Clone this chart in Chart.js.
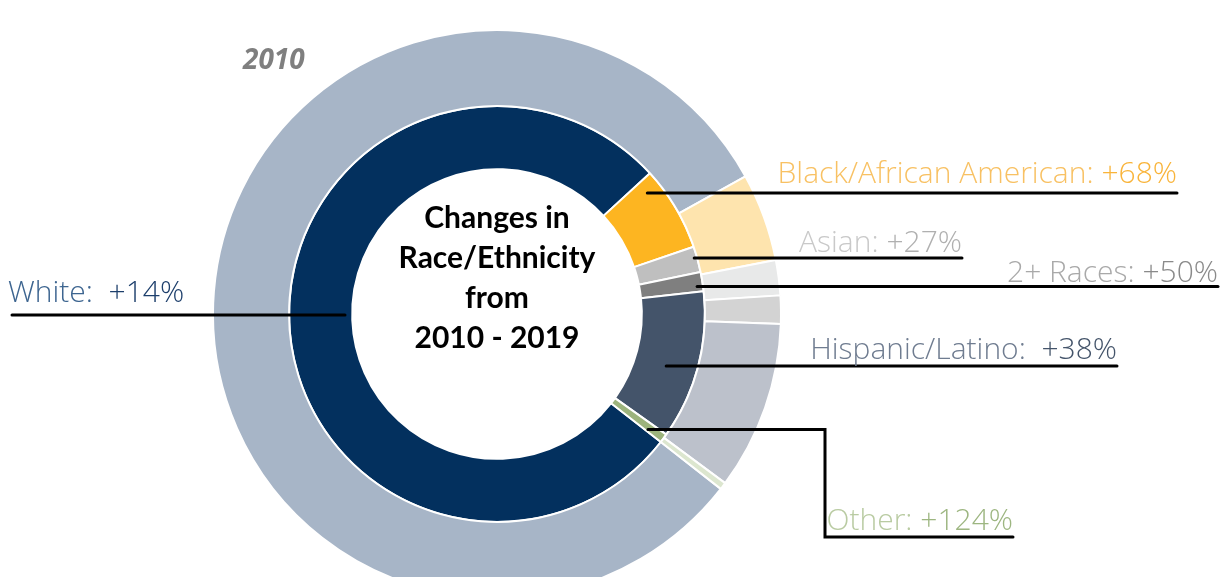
<!DOCTYPE html>
<html>
<head>
<meta charset="utf-8">
<title>Changes in Race/Ethnicity from 2010 - 2019</title>
<script src="https://cdn.jsdelivr.net/npm/chart.js@4.4.1/dist/chart.umd.min.js"></script>
<style>
	html, body { margin: 0; padding: 0; background: #ffffff; overflow: hidden; }
	#wrap { position: relative; width: 1231px; height: 577px; }
</style>
</head>
<body>
<div id="wrap"><canvas id="donut" width="1231" height="577"></canvas></div>
<script>
// groups, in the order the slices are drawn (clockwise)
var groups = ['White', 'Black/African American', 'Asian', '2+ Races', 'Hispanic/Latino', 'Other'];
var changes = ['+14%', '+68%', '+27%', '+50%', '+38%', '+124%'];
// share of population (%)
var share2010 = [81.4, 5.0, 2.0, 1.6, 9.6, 0.4];
var share2019 = [77.6, 6.6, 2.0, 1.5, 11.6, 0.7];

var colors2010 = ['#a7b5c7', '#fee4ae', '#e8e9e9', '#d3d3d3', '#bcc1cb', '#dce6cf'];
var colors2019 = ['#03305e', '#fdb521', '#bfbfbf', '#7f7f7f', '#44546a', '#9cb37c'];
var nameColors = ['#3d6590', '#f8c163', '#c9c9c9', '#a9a9a9', '#6f7c90', '#b9cba2'];
var valueColors = ['#1d3f6c', '#f9b43a', '#b0b0b0', '#8a8a8a', '#44546a', '#9db681'];

// leader lines: t = where along the inner slice, r = radius, end = x where the line stops
var leaders = [
	{t: 0.507, r: 152, end: 12, side: 'left', textX: 8, lift: 13, gap: '  '},
	{t: 0.16, r: 193, end: 1177, side: 'right', lift: 10, gap: ' '},
	{t: 0.42, r: 205, end: 962, side: 'right', lift: 6, gap: ' '},
	{t: 0.72, r: 202, end: 1218, side: 'right', lift: 5, gap: ' '},
	{t: 0.56, r: 177, end: 1117, side: 'right', lift: 7, gap: '  '},
	{t: 0.76, r: 190, end: 1013, side: 'right', lift: 7, gap: ' ', elbowX: 825, dropY: 537}
];

var labelFont = '300 30px "Open Sans"';

var labelPlugin = {
	id: 'labels',
	afterDatasetsDraw: function(chart) {
		var ctx = chart.ctx;
		var inner = chart.getDatasetMeta(1).data;
		var first = inner[0];
		ctx.save();

		// centre text
		ctx.fillStyle = '#000000';
		ctx.font = 'bold 30px Lato';
		ctx.textAlign = 'center';
		ctx.textBaseline = 'alphabetic';
		var lines = ['Changes in', 'Race/Ethnicity', 'from', '2010 - 2019'];
		for (var i = 0; i < lines.length; i++) {
			ctx.fillText(lines[i], first.x, first.y - 86 + i * 40);
		}

		// 2010 ring name
		ctx.fillStyle = '#7f7f7f';
		ctx.font = 'italic bold 28px "Open Sans"';
		ctx.textAlign = 'left';
		ctx.fillText('2010', 243, 69);

		for (var k = 0; k < groups.length; k++) {
			var arc = inner[k];
			var L = leaders[k];
			var a = arc.startAngle + L.t * (arc.endAngle - arc.startAngle);
			var sx = arc.x + L.r * Math.cos(a);
			var sy = arc.y + L.r * Math.sin(a);

			ctx.strokeStyle = '#000000';
			ctx.lineWidth = 3;
			ctx.lineCap = 'round';
			ctx.beginPath();
			ctx.moveTo(sx, sy);
			var ty = sy;
			if (L.elbowX) {
				ctx.lineTo(L.elbowX, sy);
				ctx.lineTo(L.elbowX, L.dropY);
				ctx.lineTo(L.end, L.dropY);
				ty = L.dropY;
			} else {
				ctx.lineTo(L.end, sy);
			}
			ctx.stroke();

			ctx.font = labelFont;
			var name = groups[k] + ':' + L.gap;
			var val = changes[k];
			var wName = ctx.measureText(name).width;
			var wVal = ctx.measureText(val).width;
			var x0 = L.side === 'left' ? L.textX : L.end - wName - wVal;
			ctx.textAlign = 'left';
			ctx.fillStyle = nameColors[k];
			ctx.fillText(name, x0, ty - L.lift);
			ctx.fillStyle = valueColors[k];
			ctx.fillText(val, x0 + wName, ty - L.lift);
		}
		ctx.restore();
	}
};

var chartdata = {
	labels: groups,
	datasets: [
		{
			label: '2010',
			data: share2010,
			backgroundColor: colors2010,
			borderColor: '#ffffff',
			borderWidth: 2,
			weight: 76
		},
		{
			label: '2019',
			data: share2019,
			backgroundColor: colors2019,
			borderColor: '#ffffff',
			borderWidth: 2,
			weight: 63
		}
	]
};

var ctx = document.getElementById('donut');

var donut = new Chart(ctx, {
	type: 'doughnut',
	data: chartdata,
	options: {
		responsive: false,
		animation: false,
		rotation: 128,
		radius: 284,
		cutout: '51%',
		clip: false,
		layout: { padding: { left: 0, right: 237, top: 51, bottom: 0 } },
		plugins: {
			legend: { display: false },
			tooltip: { enabled: false }
		}
	},
	plugins: [labelPlugin]
});
</script>
</body>
</html>
